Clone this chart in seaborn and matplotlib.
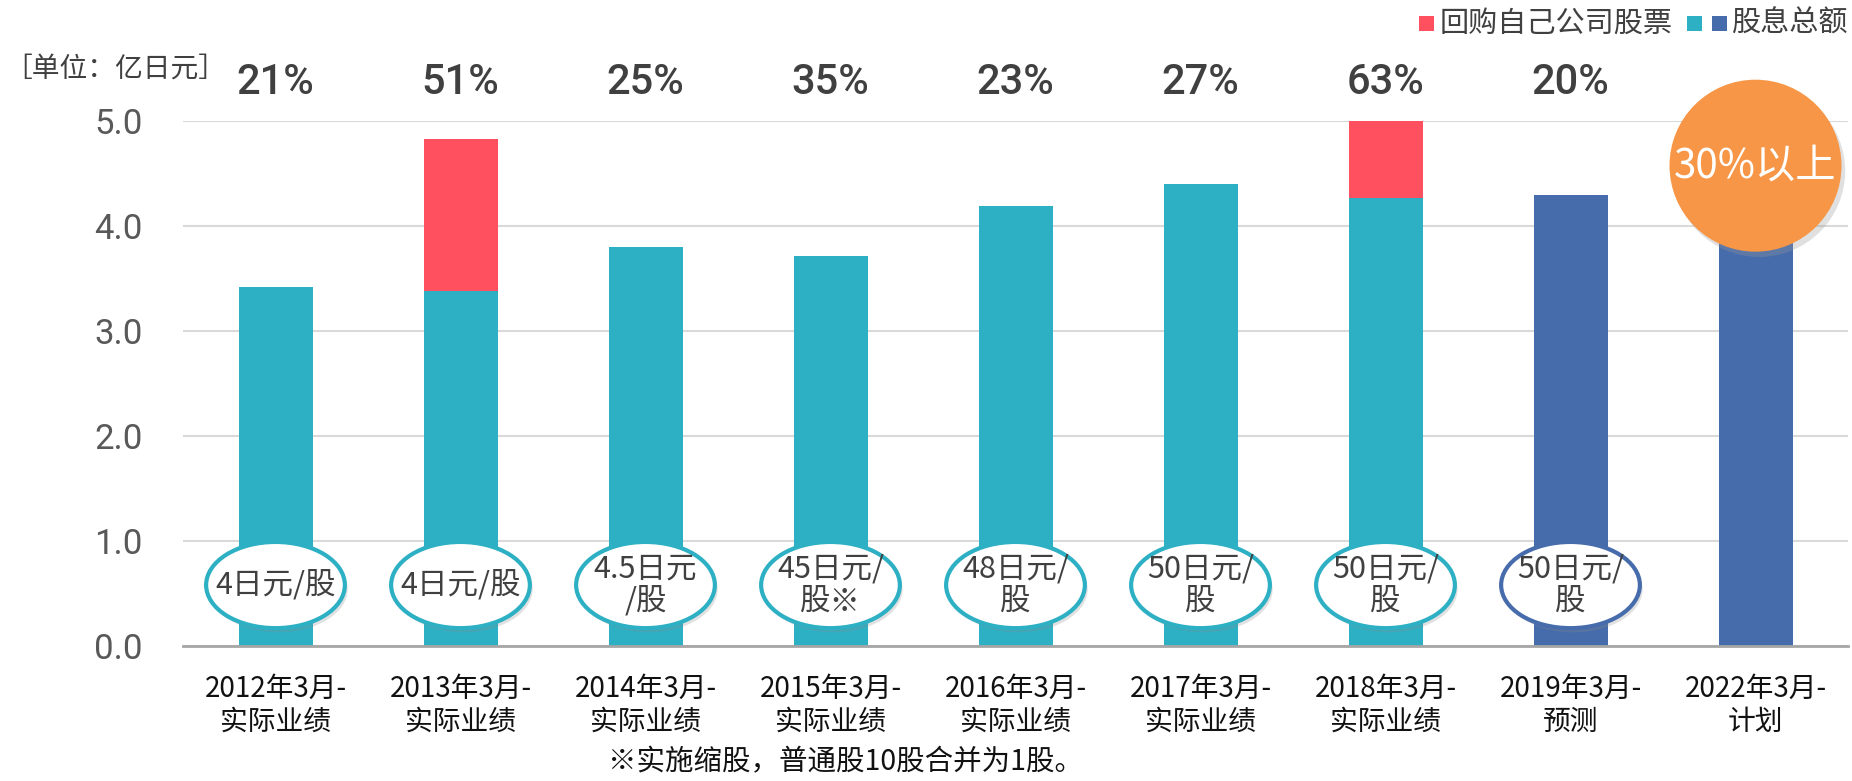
import numpy as np
import pandas as pd
import matplotlib
matplotlib.use("Agg")
import matplotlib.pyplot as plt
import seaborn as sns
from matplotlib.patches import Ellipse, Rectangle

# --- data ---
periods = ["2012年3月-\n实际业绩", "2013年3月-\n实际业绩", "2014年3月-\n实际业绩",
           "2015年3月-\n实际业绩", "2016年3月-\n实际业绩", "2017年3月-\n实际业绩",
           "2018年3月-\n实际业绩", "2019年3月-\n预测", "2022年3月-\n计划"]
dividend_total = [3.42, 3.38, 3.80, 3.71, 4.19, 4.40, 4.26, 4.29, 4.50]
buyback = [0.0, 1.44, 0.0, 0.0, 0.0, 0.0, 0.74, 0.0, 0.0]
payout_ratio = ["21%", "51%", "25%", "35%", "23%", "27%", "63%", "20%", ""]
per_share = ["4日元/股", "4日元/股", "4.5日元\n/股", "45日元/\n股※", "48日元/\n股",
             "50日元/\n股", "50日元/\n股", "50日元/\n股", None]
is_actual = [True] * 7 + [False] * 2
target_label = "30%以上"
legend_buyback = "回购自己公司股票"
legend_dividend = "股息总额"

TEAL = "#2EB0C4"
BLUE = "#476CAC"
RED = "#FF505F"
ORANGE = "#F79646"
TXT = "#404040"

sns.set_theme(style="white")
plt.rcParams["font.family"] = ["Noto Sans CJK SC", "DejaVu Sans"]

df = pd.DataFrame({"period": periods, "dividend": dividend_total, "buyback": buyback})
df["total"] = df["dividend"] + df["buyback"]
bar_colors = [TEAL if a else BLUE for a in is_actual]

W, H = 1852, 781
fig = plt.figure(figsize=(W / 100, H / 100), dpi=100)
ax = fig.add_axes([183 / W, 1 - 646 / H, (1848 - 183) / W, (646 - 120.5) / H])

# stacked bars: total (red) first, dividend drawn over it
sns.barplot(data=df, x="period", y="total", color=RED, width=0.4, saturation=1,
            errorbar=None, linewidth=0, ax=ax, zorder=2)
sns.barplot(data=df, x="period", y="dividend", hue="period", palette=bar_colors,
            width=0.4, saturation=1, errorbar=None, legend=False, linewidth=0,
            ax=ax, zorder=2)

ax.set_xlim(-0.5, len(periods) - 0.5)
ax.set_ylim(0, 5)
ax.set_yticks(np.arange(0, 5.01, 1.0))
ax.set_yticklabels([f"{v:.1f}" for v in np.arange(0, 5.01, 1.0)],
                   family="Roboto", fontsize=25, color="#595959")
ax.tick_params(axis="y", length=0, pad=29)
ax.tick_params(axis="x", length=0, pad=20, labelsize=20, labelcolor="#111111")
for lab in ax.get_xticklabels():
    lab.set_linespacing(1.12)
ax.set_xlabel("")
ax.set_ylabel("")
ax.yaxis.grid(True, color="#D9D9D9", lw=1.5, zorder=0)
ax.set_axisbelow(True)
for s in ["left", "right", "top"]:
    ax.spines[s].set_visible(False)
ax.spines["bottom"].set_color("#A6A6A6")
ax.spines["bottom"].set_linewidth(2)
ax.spines["bottom"].set_zorder(5)

# payout ratio labels above the plot
for i, p in enumerate(payout_ratio):
    if p:
        ax.text(i, 5.36, p, ha="center", va="center", family="Roboto",
                fontsize=30, fontweight="medium", color=TXT, clip_on=False)

# per-share dividend ellipses
for i, t in enumerate(per_share):
    if t is None:
        continue
    edge = TEAL if is_actual[i] else BLUE
    ax.add_patch(Ellipse((i + 0.015, 0.54), 0.75, 0.82, facecolor="#888888",
                         edgecolor="none", alpha=0.25, zorder=3))
    ax.add_patch(Ellipse((i, 0.58), 0.75, 0.82, facecolor="white",
                         edgecolor=edge, lw=3, zorder=3))
    ax.text(i, 0.58, t, ha="center", va="center", fontsize=22, color=TXT,
            linespacing=1.05, zorder=4)

# target circle on the last bar (round in pixels)
px_x = (1848 - 183) / len(periods)
px_y = (646 - 120.5) / 5
r = 86
last = len(periods) - 1
ax.add_patch(Ellipse((last + 0.02, 4.52), 2 * r / px_x, 2 * r / px_y,
                     facecolor="#999999", edgecolor="none", alpha=0.3,
                     zorder=5, clip_on=False))
ax.add_patch(Ellipse((last, 4.57), 2 * r / px_x, 2 * r / px_y,
                     facecolor=ORANGE, edgecolor="none", zorder=6, clip_on=False))
ax.text(last, 4.57, target_label, ha="center", va="center", fontsize=29,
        color="white", zorder=7, clip_on=False)

# unit label and footnote
fig.text(4 / W, 1 - 69 / H, "［单位：亿日元］", ha="left", va="center",
         fontsize=20, color=TXT)
fig.text(845 / W, 1 - 762 / H, "※实施缩股，普通股10股合并为1股。", ha="center",
         va="center", fontsize=20.5, color="#111111")

# legend (squares + labels placed in figure pixels)
def px_rect(x0, color):
    fig.add_artist(Rectangle((x0 / W, 1 - 31 / H), 15 / W, 15 / H,
                             transform=fig.transFigure, facecolor=color,
                             edgecolor="none"))

px_rect(1419, RED)
fig.text(1440 / W, 1 - 24 / H, legend_buyback, ha="left", va="center",
         fontsize=21, color=TXT)
px_rect(1687, TEAL)
px_rect(1712, BLUE)
fig.text(1731 / W, 1 - 24 / H, legend_dividend, ha="left", va="center",
         fontsize=21, color=TXT)

fig.savefig("out.png", dpi=100)
